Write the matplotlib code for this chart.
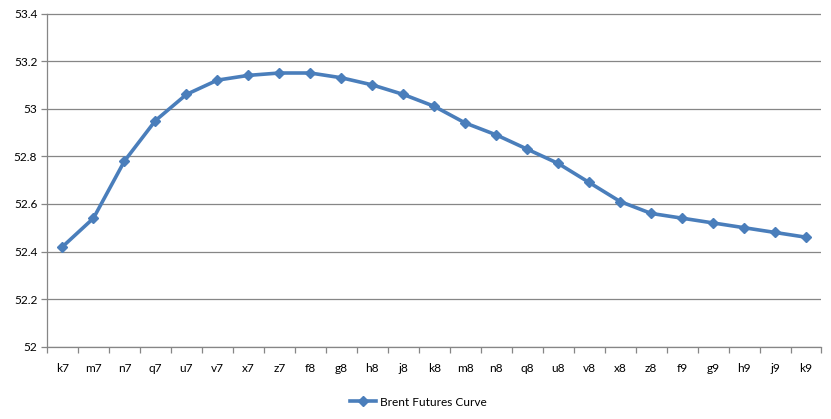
import matplotlib
matplotlib.use("Agg")
import matplotlib.pyplot as plt
import numpy as np

contracts = ['k7', 'm7', 'n7', 'q7', 'u7', 'v7', 'x7', 'z7', 'f8', 'g8', 'h8', 'j8', 'k8',
             'm8', 'n8', 'q8', 'u8', 'v8', 'x8', 'z8', 'f9', 'g9', 'h9', 'j9', 'k9']
prices = [52.42, 52.54, 52.78, 52.95, 53.06, 53.12, 53.14, 53.15, 53.15, 53.13, 53.10, 53.06, 53.01,
          52.94, 52.89, 52.83, 52.77, 52.69, 52.61, 52.56, 52.54, 52.52, 52.50, 52.48, 52.46]
yticks = [52, 52.2, 52.4, 52.6, 52.8, 53, 53.2, 53.4]
ytick_labels = ['52', '52.2', '52.4', '52.6', '52.8', '53', '53.2', '53.4']

plt.rcParams['font.family'] = ['Lato', 'DejaVu Sans']
grid_col = '#868686'
line_col = '#4A7EBB'
fs = 8.6

fig = plt.figure(figsize=(8.31, 4.19), dpi=100)
ax = fig.add_axes([47 / 831, 1 - 346.7 / 419, (821.5 - 47) / 831, (346.7 - 13.5) / 419])

x = np.arange(len(contracts))
line, = ax.plot(x, prices, color=line_col, lw=2.6, marker='D', ms=5.5,
                markeredgecolor=line_col, label='Brent Futures Curve')

ax.set_xlim(-0.5, len(contracts) - 0.5)
ax.set_ylim(52, 53.4)
ax.set_yticks(yticks)
ax.set_yticklabels(ytick_labels, fontsize=fs)
ax.yaxis.grid(True, color=grid_col, lw=0.9)
ax.set_axisbelow(True)

ax.set_xticks(x)
ax.set_xticklabels(contracts, fontsize=fs)
ax.tick_params(axis='x', which='major', length=0, pad=12)
ax.set_xticks(np.arange(-0.5, len(contracts)), minor=True)
ax.tick_params(axis='x', which='minor', length=4, color=grid_col, width=0.9)
ax.tick_params(axis='y', length=4, color=grid_col, width=0.9, pad=3)

for s in ['top', 'right']:
    ax.spines[s].set_visible(False)
for s in ['left', 'bottom']:
    ax.spines[s].set_color(grid_col)
    ax.spines[s].set_linewidth(0.9)

fig.legend(handles=[line], loc='center', bbox_to_anchor=(418 / 831, 1 - 402 / 419),
           frameon=False, fontsize=fs, handlelength=2.2, handletextpad=0.3)

fig.savefig('out.png', dpi=100)
